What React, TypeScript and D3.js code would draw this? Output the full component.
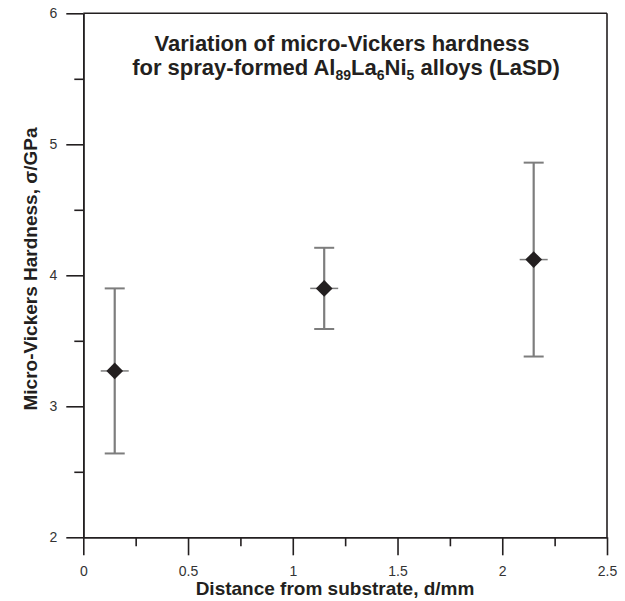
import { useEffect, useRef } from "react"
import * as d3 from "d3"

// readings from the figure
const distances = [0.15, 1.15, 2.15]
const hardness = [3.27, 3.9, 4.12]
const upperBars = [3.9, 4.21, 4.86]
const lowerBars = [2.64, 3.59, 3.38]

const xMajorTicks = [0, 0.5, 1, 1.5, 2, 2.5]
const xMinorTicks = [0.25, 0.75, 1.25, 1.75, 2.25]
const yMajorTicks = [2, 3, 4, 5, 6]
const yMinorTicks = [2.5, 3.5, 4.5, 5.5]

const FONT = "'Liberation Sans', Arial, Helvetica, sans-serif"
const AXIS_COLOR = "#231f20"
const BAR_COLOR = "#7d7d7d"

export default function App() {
  const svgRef = useRef<SVGSVGElement>(null)

  useEffect(() => {
    if (!svgRef.current) return
    const svg = d3.select(svgRef.current)
    svg.selectAll("*").remove()

    const left = 83.3
    const right = 607
    const top = 13.3
    const bottom = 537.3

    const x = d3.scaleLinear().domain([0, 2.5]).range([left, right])
    const y = d3.scaleLinear().domain([2, 6]).range([bottom, top])

    const styleAxis = (g: d3.Selection<SVGGElement, unknown, null, undefined>) => {
      g.select(".domain").attr("stroke", AXIS_COLOR).attr("stroke-width", 1.6)
      g.selectAll(".tick line").attr("stroke", AXIS_COLOR).attr("stroke-width", 1.6)
      g.selectAll(".tick text")
        .attr("fill", "#333")
        .style("font-family", FONT)
        .style("font-size", "14px")
    }

    // minor ticks first
    svg.append("g")
      .attr("transform", `translate(0,${bottom})`)
      .call(d3.axisBottom(x).tickValues(xMinorTicks).tickSize(9).tickSizeOuter(0).tickFormat(() => ""))
      .call(styleAxis)
    svg.append("g")
      .attr("transform", `translate(${left},0)`)
      .call(d3.axisLeft(y).tickValues(yMinorTicks).tickSize(9).tickSizeOuter(0).tickFormat(() => ""))
      .call(styleAxis)

    svg.append("g")
      .attr("transform", `translate(0,${bottom})`)
      .call(d3.axisBottom(x).tickValues(xMajorTicks).tickSize(18).tickSizeOuter(0).tickPadding(11).tickFormat(d3.format("")))
      .call(styleAxis)
    svg.append("g")
      .attr("transform", `translate(${left},0)`)
      .call(d3.axisLeft(y).tickValues(yMajorTicks).tickSize(17).tickSizeOuter(0).tickPadding(9).tickFormat(d3.format("")))
      .call(styleAxis)

    // frame top and right
    svg.append("line")
      .attr("x1", left).attr("x2", right).attr("y1", top).attr("y2", top)
      .attr("stroke", AXIS_COLOR).attr("stroke-width", 1.6)
    svg.append("line")
      .attr("x1", right).attr("x2", right).attr("y1", top).attr("y2", bottom)
      .attr("stroke", AXIS_COLOR).attr("stroke-width", 1.6)

    // error bars
    const pts = distances.map((d, i) => ({ d, h: hardness[i], hi: upperBars[i], lo: lowerBars[i] }))
    const bars = svg.append("g")
    pts.forEach((p) => {
      const cx = x(p.d)
      bars.append("line")
        .attr("x1", cx).attr("x2", cx).attr("y1", y(p.hi)).attr("y2", y(p.lo))
        .attr("stroke", BAR_COLOR).attr("stroke-width", 2.2)
      ;[p.hi, p.lo].forEach((v) => {
        bars.append("line")
          .attr("x1", cx - 10).attr("x2", cx + 10).attr("y1", y(v)).attr("y2", y(v))
          .attr("stroke", BAR_COLOR).attr("stroke-width", 2)
      })
      bars.append("line")
        .attr("x1", cx - 14).attr("x2", cx + 14).attr("y1", y(p.h)).attr("y2", y(p.h))
        .attr("stroke", BAR_COLOR).attr("stroke-width", 1.5)
    })

    // diamond markers
    svg.append("g")
      .selectAll("path")
      .data(pts)
      .join("path")
      .attr("d", d3.symbol(d3.symbolSquare, 140)())
      .attr("transform", (p) => `translate(${x(p.d)},${y(p.h)}) rotate(45)`)
      .attr("fill", AXIS_COLOR)

    // title
    const title = svg.append("text")
      .attr("text-anchor", "middle")
      .attr("fill", AXIS_COLOR)
      .style("font-family", FONT)
      .style("font-weight", "bold")
      .style("font-size", "22px")
    title.append("tspan").attr("x", 342).attr("y", 51).text("Variation of micro-Vickers hardness")
    const line2 = title.append("tspan").attr("x", 346).attr("y", 75)
    line2.append("tspan").text("for spray-formed Al")
    line2.append("tspan").attr("dy", 5).style("font-size", "14px").text("89")
    line2.append("tspan").attr("dy", -5).text("La")
    line2.append("tspan").attr("dy", 5).style("font-size", "14px").text("6")
    line2.append("tspan").attr("dy", -5).text("Ni")
    line2.append("tspan").attr("dy", 5).style("font-size", "14px").text("5")
    line2.append("tspan").attr("dy", -5).text(" alloys (LaSD)")

    // axis titles
    svg.append("text")
      .attr("x", 335)
      .attr("y", 595)
      .attr("text-anchor", "middle")
      .attr("fill", AXIS_COLOR)
      .style("font-family", FONT)
      .style("font-weight", "bold")
      .style("font-size", "19px")
      .text("Distance from substrate, d/mm")

    svg.append("text")
      .attr("transform", "translate(37,269) rotate(-90)")
      .attr("text-anchor", "middle")
      .attr("fill", AXIS_COLOR)
      .style("font-family", FONT)
      .style("font-weight", "bold")
      .style("font-size", "19px")
      .text("Micro-Vickers Hardness, σ/GPa")
  }, [])

  return (
    <svg
      ref={svgRef}
      width={625}
      height={601}
      style={{ position: "absolute", left: 0, top: 0, background: "#fff" }}
    />
  )
}
